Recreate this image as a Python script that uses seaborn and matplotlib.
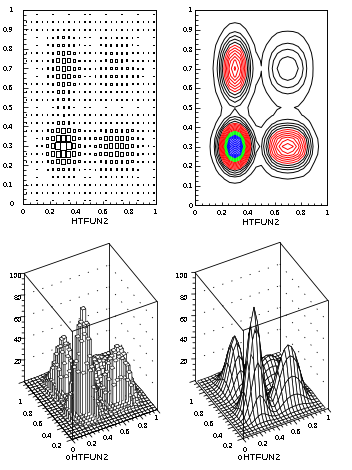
import numpy as np
import pandas as pd
import seaborn as sns
import matplotlib
matplotlib.use("Agg")
import matplotlib.pyplot as plt
from matplotlib.path import Path
from matplotlib.ticker import MultipleLocator

# bin centres of the 25 x 25 histogram
bin_x = [0.02, 0.06, 0.10, 0.14, 0.18, 0.22, 0.26, 0.30, 0.34, 0.38, 0.42, 0.46, 0.50,
         0.54, 0.58, 0.62, 0.66, 0.70, 0.74, 0.78, 0.82, 0.86, 0.90, 0.94, 0.98]
bin_y = bin_x

# one row per y bin
z_rows = [
    [.1, .1, .1, .1, .1, .1, .1, .1, .1, .1, .1, .1, .1, .1, .1, .1, .1, .1, .1, .1, .1, .1, .1, .1, .1],
    [.1, .1, .1, .1, .1, .1, .2, .3, .2, .1, .1, .1, .1, .1, .1, .1, .1, .1, .1, .1, .1, .1, .1, .1, .1],
    [.1, .1, .1, .1, .4, .9, 1.4, 1.6, 1.4, .9, .4, .2, .1, .3, .5, .7, .8, .9, .8, .7, .5, .3, .1, .1, .1],
    [.1, .1, .1, .5, 1.6, 3.7, 6.0, 7.1, 6.0, 3.7, 1.7, .7, .6, 1.2, 2.3, 3.1, 3.5, 3.7, 3.5, 3.1, 2.3, 1.2, .5, .2, .1],
    [.1, .1, .4, 1.6, 5.1, 11.6, 18.9, 22.3, 18.9, 11.7, 5.3, 2.2, 1.8, 4.0, 7.0, 9.6, 11.1, 11.7, 11.1, 9.6, 7.0, 3.9, 1.5, .6, .2],
    [.1, .1, .9, 3.7, 11.6, 26.2, 42.8, 50.4, 42.8, 26.3, 12.0, 5.0, 4.2, 8.9, 15.9, 21.7, 25.1, 26.5, 25.1, 21.7, 15.9, 8.8, 3.3, 1.3, .4],
    [.1, .2, 1.4, 6.0, 19.0, 42.8, 70.0, 82.4, 70.0, 43.1, 19.7, 8.2, 6.8, 14.6, 25.9, 35.3, 41.0, 43.3, 41.0, 35.3, 25.9, 14.3, 5.4, 2.2, .7],
    [.1, .3, 1.6, 7.1, 22.3, 50.4, 82.4, 97.0, 82.4, 50.7, 23.2, 9.7, 8.0, 17.1, 30.6, 41.7, 48.3, 51.0, 48.3, 41.7, 30.6, 16.9, 6.4, 2.6, .9],
    [.1, .2, 1.4, 6.0, 19.0, 42.8, 70.0, 82.4, 70.0, 43.1, 19.7, 8.2, 6.8, 14.6, 25.9, 35.3, 41.0, 43.3, 41.0, 35.3, 25.9, 14.3, 5.4, 2.2, .7],
    [.1, .1, .9, 3.7, 11.7, 26.4, 43.0, 50.7, 43.1, 26.5, 12.1, 5.0, 4.2, 9.0, 16.0, 21.8, 25.2, 26.6, 25.2, 21.8, 16.0, 8.8, 3.3, 1.3, .4],
    [.1, .1, .4, 1.7, 5.4, 12.1, 19.8, 23.3, 19.8, 12.2, 5.6, 2.3, 1.9, 4.1, 7.2, 9.9, 11.4, 12.1, 11.4, 9.9, 7.2, 4.0, 1.5, .6, .2],
    [.1, .1, .2, .7, 2.3, 5.1, 8.4, 9.9, 8.4, 5.2, 2.3, 1.0, .8, 1.6, 2.9, 4.0, 4.5, 4.8, 4.5, 4.0, 2.9, 1.6, .6, .2, .1],
    [.1, .1, .1, .6, 1.9, 4.3, 7.0, 8.3, 7.0, 4.3, 1.9, .8, .6, 1.1, 2.0, 2.9, 3.3, 3.5, 3.3, 2.9, 2.0, 1.1, .4, .2, .1],
    [.1, .1, .2, 1.0, 3.2, 7.2, 11.8, 13.9, 11.8, 7.3, 3.3, 1.3, .9, 1.9, 3.3, 4.6, 5.3, 5.6, 5.3, 4.6, 3.3, 1.9, .7, .3, .1],
    [.1, .1, .4, 1.8, 5.5, 12.4, 20.3, 23.9, 20.3, 12.5, 5.7, 2.2, 1.6, 3.3, 5.7, 7.8, 9.0, 9.5, 9.0, 7.8, 5.7, 3.1, 1.2, .5, .2],
    [.1, .1, .6, 2.6, 8.2, 18.5, 30.2, 35.6, 30.2, 18.6, 8.4, 3.3, 2.4, 4.9, 8.5, 11.6, 13.5, 14.2, 13.5, 11.6, 8.5, 4.6, 1.8, .7, .2],
    [.1, .1, .8, 3.3, 10.4, 23.5, 38.4, 45.2, 38.4, 23.6, 10.7, 4.2, 3.0, 6.1, 10.8, 14.7, 17.1, 18.0, 17.1, 14.7, 10.8, 6.0, 2.3, .9, .3],
    [.1, .1, .8, 3.6, 11.3, 25.5, 41.6, 49.0, 41.6, 25.6, 11.6, 4.6, 3.3, 6.6, 11.7, 16.0, 18.4, 19.5, 18.4, 16.0, 11.7, 6.4, 2.4, 1.0, .3],
    [.1, .1, .8, 3.3, 10.4, 23.5, 38.4, 45.2, 38.4, 23.6, 10.7, 4.2, 3.0, 6.1, 10.8, 14.7, 17.1, 18.0, 17.1, 14.7, 10.8, 6.0, 2.3, .9, .3],
    [.1, .1, .6, 2.6, 8.2, 18.5, 30.2, 35.6, 30.2, 18.6, 8.4, 3.3, 2.4, 4.9, 8.5, 11.6, 13.5, 14.2, 13.5, 11.6, 8.5, 4.6, 1.8, .7, .2],
    [.1, .1, .4, 1.8, 5.5, 12.4, 20.3, 23.9, 20.3, 12.5, 5.7, 2.2, 1.6, 3.3, 5.7, 7.8, 9.0, 9.5, 9.0, 7.8, 5.7, 3.1, 1.2, .5, .2],
    [.1, .1, .2, 1.0, 3.1, 7.1, 11.5, 13.6, 11.5, 7.1, 3.2, 1.3, .9, 1.9, 3.2, 4.4, 5.2, 5.4, 5.2, 4.4, 3.2, 1.8, .7, .3, .1],
    [.1, .1, .1, .5, 1.5, 3.4, 5.6, 6.6, 5.6, 3.4, 1.6, .6, .4, .9, 1.5, 2.2, 2.5, 2.6, 2.5, 2.2, 1.5, .9, .3, .1, .1],
    [.1, .1, .1, .2, .6, 1.4, 2.3, 2.7, 2.3, 1.4, .6, .3, .2, .4, .6, .9, 1.0, 1.1, 1.0, .9, .6, .4, .1, .1, .1],
    [.1, .1, .1, .1, .2, .5, .8, 1.0, .8, .5, .2, .1, .1, .1, .2, .3, .4, .4, .4, .3, .2, .1, .1, .1, .1],
]

black_levels = [3.2, 8.5, 12, 16, 20]
red_levels = [24, 28, 32, 36, 40, 44, 48]
green_levels = [52, 56, 60, 64]
blue_levels = [68, 72, 76, 80, 84, 88, 92, 96]

tick_labels_2d = ['0', '0.2', '0.4', '0.6', '0.8', '1']
tick_labels_y = ['0', '0.1', '0.2', '0.3', '0.4', '0.5', '0.6', '0.7', '0.8', '0.9', '1']
z_ticks = [20, 40, 60, 80, 100]

W, H = 352, 470
Z = np.array(z_rows)
X, Y = np.meshgrid(bin_x, bin_y)

sns.set_style('ticks', {'axes.edgecolor': 'black', 'xtick.color': 'black', 'ytick.color': 'black',
                        'text.color': 'black', 'axes.labelcolor': 'black',
                        'xtick.direction': 'in', 'ytick.direction': 'in'})
plt.rcParams['font.family'] = ['Liberation Sans', 'DejaVu Sans']
plt.rcParams['text.antialiased'] = False

fig = plt.figure(figsize=(W / 100, H / 100), dpi=100)


def pixel_axes(left, top, right, bottom, **kw):
    return fig.add_axes([left / W, 1 - bottom / H, (right - left) / W, (bottom - top) / H], **kw)


def label(px, py, s, size=5.5, ha='center'):
    fig.text(px / W, 1 - py / H, s, fontsize=size, ha=ha, va='center')


def style_2d(ax, ypad):
    ax.set_xlim(0, 1)
    ax.set_ylim(0, 1)
    ax.set_xticks([0, .2, .4, .6, .8, 1])
    ax.set_xticklabels(tick_labels_2d)
    ax.set_yticks([0, .1, .2, .3, .4, .5, .6, .7, .8, .9, 1])
    ax.set_yticklabels(tick_labels_y)
    ax.xaxis.set_minor_locator(MultipleLocator(0.05))
    ax.yaxis.set_minor_locator(MultipleLocator(0.025))
    ax.tick_params(axis='x', which='major', length=2.4, width=.6, pad=3.5, labelsize=5.5)
    ax.tick_params(axis='x', which='minor', length=1.4, width=.6)
    ax.tick_params(axis='y', which='major', length=3.6, width=.6, pad=ypad, labelsize=5.5)
    ax.tick_params(axis='y', which='minor', length=1.8, width=.6)
    ax.set_xlabel('HTFUN2', fontsize=6.8, labelpad=1)
    ax.set_ylabel('')
    for spine in ax.spines.values():
        spine.set_visible(True)
        spine.set_linewidth(.7)


# box plot, the boxes shrink faster than the bin content
ax1 = pixel_axes(23.3, 10, 156, 204)
boxes = pd.DataFrame({'x': X.ravel(), 'y': Y.ravel(), 'z': Z.ravel()})
boxes['area'] = boxes['z'] ** 1.5
box_marker = Path([[-.68, -1], [.68, -1], [.68, 1], [-.68, 1], [-.68, -1]], closed=True)
sns.scatterplot(data=boxes, x='x', y='y', size='area', sizes=(.15, 31), size_norm=(0, 955),
                marker=box_marker, facecolor='none', edgecolor='black', linewidth=.5,
                antialiased=False, legend=False, ax=ax1)
style_2d(ax1, 7)

# contour plot
ax2 = pixel_axes(195.3, 10, 327.3, 205)
levels = black_levels + red_levels + green_levels + blue_levels
colors = ['black'] * len(black_levels) + ['red'] * len(red_levels) + ['lime'] * len(green_levels) + ['blue'] * len(blue_levels)
ax2.contour(bin_x, bin_y, Z, levels=levels, colors=colors, linewidths=.7)
style_2d(ax2, 1.8)


def axes_3d(cx, cy):
    side = 388
    ax = fig.add_axes([(cx - .5135 * side) / W, 1 - (cy + .5135 * side) / H, side / W, side / H],
                      projection='3d')
    ax.set_proj_type('ortho')
    ax.view_init(elev=40.8, azim=241.6)
    ax.set_xlim(0, 1, view_margin=0)
    ax.set_ylim(0, 1, view_margin=0)
    ax.set_zlim(0, 100, view_margin=0)
    ax.set_box_aspect((96.6, 101, 143), zoom=.5)
    ax.set_axis_off()
    ax.patch.set_visible(False)
    ax.computed_zorder = False

    def seg(p, q, zorder=3, **kw):
        kw.setdefault('color', 'black')
        kw.setdefault('lw', .6)
        ax.plot([p[0], q[0]], [p[1], q[1]], [p[2], q[2]], zorder=zorder, **kw)

    # back walls: dotted levels and the hidden verticals
    for z in z_ticks[:-1]:
        seg((0, 1, z), (1, 1, z), zorder=1, ls=(0, (1.4, 10.2)))
        seg((1, 1, z), (1, 0, z), zorder=1, ls=(0, (1.4, 10.2)))
    seg((1, 1, 0), (1, 1, 100), zorder=1)
    seg((0, 1, 0), (0, 1, 100), zorder=1)
    seg((1, 0, 0), (1, 0, 100), zorder=1)
    # top of the box
    seg((0, 1, 100), (1, 1, 100), zorder=1)
    seg((1, 1, 100), (1, 0, 100), zorder=1)
    seg((1, 0, 100), (0, 0, 100))
    seg((0, 0, 100), (0, 1, 100))
    seg((0, 0, 0), (0, 0, 100))
    # floor edges with their ticks
    seg((0, 0, 0), (1, 0, 0))
    seg((0, 0, 0), (0, 1, 0))
    for t in np.arange(0, 1.001, .05):
        major = round(t * 20) % 4 == 0
        seg((t, 0, 0), (t, -.06 if major else -.035, 0))
        seg((0, t, 0), (-.06 if major else -.035, t, 0))
    for z in np.arange(5, 100.1, 5):
        k = .03 if z % 20 == 0 else .018
        seg((0, 1, z), (-k, 1 + k * .52, z))
    return ax


# lego plot
ax3 = axes_3d(90.5, 341.5)
ax3.bar3d(X.ravel() - .02, Y.ravel() - .02, np.zeros(Z.size), .04, .04, Z.ravel(),
          color='white', edgecolor='black', linewidth=.4, shade=False, zorder=2)

# surface plot
ax4 = axes_3d(261.35, 340.5)
ax4.plot_surface(X, Y, Z, rstride=1, cstride=1, color='white', edgecolor='black',
                 linewidth=.5, shade=False, zorder=2)

# tick labels of the two 3D panels
for dx, x_labels, y_labels in [(0, [92, 108, 125, 143, 157], [57, 47, 38, 28, 21]),
                               (171.5, [91.5, 108.5, 124.5, 141.5, 157.5], [56.5, 46.5, 37.5, 27.5, 20.5])]:
    for t, py, px in zip(['0.2', '0.4', '0.6', '0.8', '1'], [445, 438, 432, 426, 419], x_labels):
        label(px + dx, py, t)
    for t, py, px in zip(['0.2', '0.4', '0.6', '0.8', '1'], [447, 436, 425, 414, 403], y_labels):
        label(px + dx, py, t)
    for z, py in zip(z_ticks, [363, 341, 320, 298, 276]):
        label(22 + dx * .97, py, str(z), ha='right')
    label(73 + dx, 450, '0')
    label(68 + dx, 459, '0')
    label(90 + dx, 458, 'HTFUN2', size=6.8)

fig.savefig('out.png', dpi=100)
